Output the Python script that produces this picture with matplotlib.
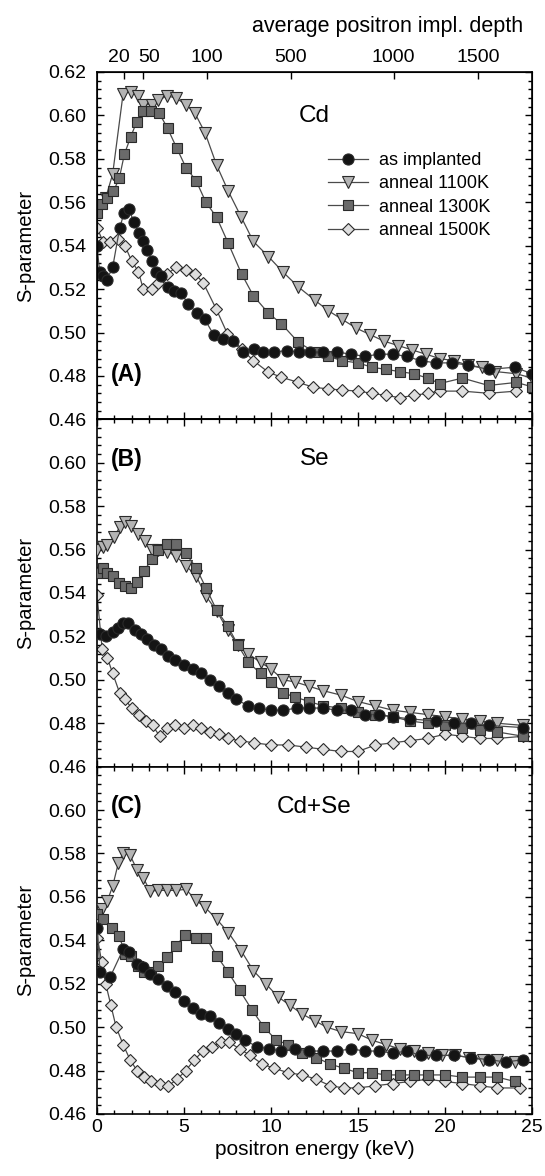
import numpy as np
import matplotlib
matplotlib.use("Agg")
import matplotlib.pyplot as plt
import matplotlib.transforms as mtransforms
from matplotlib.ticker import MultipleLocator

plt.rcParams['font.family'] = ['Liberation Sans', 'DejaVu Sans']

# ---- data (energy in keV, S-parameter) ----
# panel A: Cd
a_imp_E = [0.0, 0.15, 0.35, 0.55, 0.9, 1.3, 1.55, 1.85, 2.1, 2.4, 2.65, 2.9, 3.15, 3.4, 3.65, 4.1, 4.4, 4.85, 5.25, 5.75, 6.2, 6.7, 7.25, 7.8, 8.4, 9.0, 9.55, 10.2, 10.9, 11.6, 12.25, 13.0, 13.8, 14.6, 15.4, 16.2, 17.0, 17.8, 18.6, 19.5, 20.4, 21.3, 22.5, 24.0, 25.0]
a_imp_S = [0.540, 0.528, 0.526, 0.524, 0.530, 0.548, 0.555, 0.557, 0.551, 0.546, 0.542, 0.538, 0.533, 0.528, 0.526, 0.521, 0.519, 0.518, 0.513, 0.509, 0.506, 0.499, 0.497, 0.496, 0.491, 0.4925, 0.491, 0.491, 0.4917, 0.491, 0.491, 0.491, 0.491, 0.490, 0.489, 0.490, 0.490, 0.489, 0.487, 0.486, 0.486, 0.485, 0.483, 0.484, 0.481]
a_1100_E = [0.05, 0.5, 0.9, 1.5, 1.93, 2.34, 2.66, 3.14, 3.52, 4.04, 4.54, 5.11, 5.63, 6.21, 6.88, 7.55, 8.3, 8.98, 9.85, 10.67, 11.57, 12.5, 13.3, 14.1, 14.9, 15.7, 16.5, 17.3, 18.1, 18.9, 19.7, 20.5, 21.3, 22.1, 22.9, 24.1, 25.0]
a_1100_S = [0.556, 0.562, 0.573, 0.610, 0.611, 0.609, 0.605, 0.605, 0.607, 0.609, 0.608, 0.605, 0.601, 0.592, 0.577, 0.565, 0.553, 0.542, 0.535, 0.528, 0.521, 0.515, 0.510, 0.506, 0.502, 0.499, 0.496, 0.494, 0.492, 0.490, 0.488, 0.487, 0.485, 0.484, 0.482, 0.481, 0.479]
a_1300_E = [0.02, 0.27, 0.56, 0.94, 1.28, 1.57, 1.93, 2.28, 2.62, 3.1, 3.58, 4.06, 4.58, 5.11, 5.69, 6.26, 6.88, 7.55, 8.31, 8.98, 9.84, 10.6, 11.57, 12.5, 13.3, 14.1, 15.0, 15.8, 16.6, 17.4, 18.2, 19.0, 19.7, 21.0, 22.5, 24.1, 25.0]
a_1300_S = [0.555, 0.559, 0.562, 0.565, 0.571, 0.582, 0.590, 0.597, 0.602, 0.602, 0.601, 0.594, 0.585, 0.576, 0.570, 0.560, 0.553, 0.541, 0.527, 0.517, 0.509, 0.504, 0.4955, 0.491, 0.489, 0.487, 0.486, 0.484, 0.483, 0.482, 0.481, 0.479, 0.4765, 0.479, 0.4756, 0.477, 0.475]
a_1500_E = [0.02, 0.36, 0.75, 1.23, 1.6, 1.99, 2.38, 2.66, 3.14, 3.52, 4.04, 4.54, 5.11, 5.63, 6.1, 6.84, 7.49, 8.31, 8.99, 9.85, 10.6, 11.57, 12.43, 13.3, 14.1, 15.0, 15.8, 16.6, 17.4, 18.2, 19.0, 19.7, 21.0, 22.5, 24.1]
a_1500_S = [0.548, 0.5415, 0.5415, 0.543, 0.540, 0.533, 0.528, 0.520, 0.520, 0.523, 0.527, 0.530, 0.529, 0.527, 0.523, 0.511, 0.4995, 0.4925, 0.487, 0.4817, 0.4794, 0.477, 0.4748, 0.474, 0.4735, 0.473, 0.472, 0.471, 0.470, 0.471, 0.472, 0.473, 0.473, 0.472, 0.473]

# panel B: Se
b_imp_E = [0.2, 0.5, 0.9, 1.2, 1.5, 1.8, 2.2, 2.5, 2.9, 3.3, 3.7, 4.1, 4.5, 5.0, 5.5, 6.0, 6.5, 7.0, 7.5, 8.0, 8.7, 9.3, 10.0, 10.7, 11.5, 12.2, 13.0, 13.8, 14.6, 15.4, 16.2, 17.0, 18.0, 19.5, 20.5, 21.5, 22.5, 24.5]
b_imp_S = [0.521, 0.520, 0.522, 0.524, 0.526, 0.526, 0.523, 0.521, 0.519, 0.516, 0.514, 0.511, 0.509, 0.507, 0.505, 0.503, 0.500, 0.497, 0.494, 0.491, 0.488, 0.487, 0.486, 0.486, 0.487, 0.487, 0.487, 0.486, 0.486, 0.484, 0.484, 0.483, 0.482, 0.481, 0.480, 0.480, 0.479, 0.478]
b_1100_E = [0.02, 0.33, 0.59, 0.98, 1.32, 1.61, 1.94, 2.38, 2.76, 3.14, 3.52, 4.04, 4.54, 5.11, 5.69, 6.26, 6.88, 7.5, 8.1, 8.7, 9.4, 10.0, 10.7, 11.4, 12.2, 13.0, 14.0, 15.0, 16.0, 17.0, 18.0, 19.0, 20.0, 21.0, 22.0, 23.0, 24.5]
b_1100_S = [0.560, 0.561, 0.562, 0.566, 0.5705, 0.5725, 0.571, 0.567, 0.564, 0.560, 0.560, 0.559, 0.557, 0.5525, 0.548, 0.5386, 0.5317, 0.523, 0.516, 0.512, 0.508, 0.505, 0.500, 0.499, 0.497, 0.495, 0.493, 0.490, 0.488, 0.486, 0.485, 0.484, 0.483, 0.482, 0.481, 0.480, 0.479]
b_1300_E = [0.02, 0.33, 0.59, 0.94, 1.28, 1.61, 1.94, 2.32, 2.7, 3.14, 3.52, 4.04, 4.54, 5.11, 5.69, 6.26, 6.88, 7.5, 8.1, 8.7, 9.4, 10.0, 10.7, 11.4, 12.2, 13.0, 14.0, 15.0, 16.0, 17.0, 18.0, 19.0, 20.0, 21.0, 22.0, 23.0, 24.5]
b_1300_S = [0.5494, 0.5517, 0.549, 0.5478, 0.5447, 0.5432, 0.5424, 0.545, 0.550, 0.5556, 0.560, 0.5628, 0.5628, 0.5582, 0.5517, 0.5424, 0.532, 0.525, 0.516, 0.508, 0.503, 0.499, 0.494, 0.492, 0.490, 0.488, 0.487, 0.485, 0.484, 0.483, 0.481, 0.480, 0.479, 0.478, 0.477, 0.476, 0.474]
b_1500_E = [0.0, 0.3, 0.6, 0.9, 1.3, 1.6, 2.0, 2.4, 2.8, 3.2, 3.6, 4.0, 4.5, 5.0, 5.5, 6.0, 6.5, 7.0, 7.5, 8.2, 9.0, 10.0, 11.0, 12.0, 13.0, 14.0, 15.0, 16.0, 17.0, 18.0, 19.0, 20.0, 21.0, 22.0, 23.0, 24.5]
b_1500_S = [0.539, 0.514, 0.510, 0.503, 0.494, 0.491, 0.487, 0.484, 0.481, 0.479, 0.474, 0.478, 0.479, 0.478, 0.479, 0.478, 0.476, 0.475, 0.473, 0.472, 0.471, 0.470, 0.470, 0.469, 0.468, 0.467, 0.467, 0.470, 0.471, 0.472, 0.473, 0.475, 0.474, 0.473, 0.473, 0.474]

# panel C: Cd+Se
c_imp_E = [0.02, 0.17, 0.75, 1.51, 1.86, 2.28, 2.66, 3.05, 3.52, 4.0, 4.5, 5.0, 5.5, 6.0, 6.5, 7.0, 7.5, 8.0, 8.5, 9.2, 9.9, 10.6, 11.4, 12.2, 13.0, 13.8, 14.6, 15.4, 16.2, 17.0, 17.8, 18.6, 19.5, 20.5, 21.5, 22.5, 23.5, 24.5]
c_imp_S = [0.5459, 0.5252, 0.523, 0.536, 0.5344, 0.529, 0.5275, 0.5245, 0.5222, 0.519, 0.516, 0.512, 0.509, 0.506, 0.505, 0.502, 0.499, 0.497, 0.494, 0.491, 0.490, 0.489, 0.490, 0.489, 0.489, 0.489, 0.490, 0.489, 0.489, 0.488, 0.489, 0.487, 0.487, 0.487, 0.486, 0.485, 0.484, 0.485]
c_1100_E = [0.02, 0.27, 0.59, 0.9, 1.23, 1.51, 1.9, 2.32, 2.66, 3.05, 3.52, 4.04, 4.54, 5.11, 5.69, 6.2, 6.88, 7.55, 8.3, 8.99, 9.7, 10.4, 11.1, 11.8, 12.5, 13.2, 14.0, 15.0, 15.8, 16.6, 17.4, 18.2, 19.0, 19.8, 20.6, 21.4, 22.2, 23.0, 24.0]
c_1100_S = [0.5505, 0.5543, 0.558, 0.565, 0.5757, 0.5803, 0.5792, 0.5722, 0.5688, 0.5627, 0.563, 0.563, 0.563, 0.5635, 0.5584, 0.5553, 0.5497, 0.5436, 0.535, 0.526, 0.520, 0.514, 0.510, 0.506, 0.503, 0.500, 0.498, 0.497, 0.494, 0.492, 0.490, 0.489, 0.488, 0.487, 0.487, 0.486, 0.485, 0.485, 0.484]
c_1300_E = [0.02, 0.33, 0.84, 1.28, 1.61, 1.94, 2.38, 2.7, 3.08, 3.52, 4.04, 4.54, 5.06, 5.69, 6.26, 6.88, 7.55, 8.2, 8.9, 9.6, 10.3, 11.0, 11.8, 12.6, 13.4, 14.2, 15.0, 15.8, 16.6, 17.4, 18.2, 19.0, 20.0, 21.0, 22.0, 23.0, 24.0]
c_1300_S = [0.552, 0.5497, 0.5459, 0.542, 0.5337, 0.5329, 0.5283, 0.5252, 0.5252, 0.5283, 0.5321, 0.5375, 0.5425, 0.5413, 0.5413, 0.5329, 0.5252, 0.517, 0.508, 0.500, 0.494, 0.492, 0.488, 0.486, 0.483, 0.481, 0.479, 0.479, 0.478, 0.478, 0.478, 0.478, 0.478, 0.477, 0.477, 0.477, 0.475]
c_1500_E = [0.02, 0.27, 0.5, 0.8, 1.1, 1.5, 1.9, 2.3, 2.7, 3.1, 3.6, 4.1, 4.6, 5.1, 5.6, 6.1, 6.6, 7.1, 7.6, 8.2, 8.8, 9.5, 10.2, 11.0, 11.8, 12.6, 13.4, 14.2, 15.0, 16.0, 17.0, 18.0, 19.0, 20.0, 21.0, 22.0, 23.0, 24.3]
c_1500_S = [0.5413, 0.530, 0.520, 0.510, 0.500, 0.492, 0.485, 0.480, 0.477, 0.475, 0.474, 0.473, 0.476, 0.480, 0.485, 0.489, 0.491, 0.493, 0.493, 0.490, 0.487, 0.483, 0.481, 0.479, 0.478, 0.476, 0.473, 0.472, 0.472, 0.473, 0.474, 0.475, 0.476, 0.475, 0.474, 0.473, 0.472, 0.472]

series_labels = ["as implanted", "anneal 1100K", "anneal 1300K", "anneal 1500K"]
panel_names = ["Cd", "Se", "Cd+Se"]
panel_letters = ["(A)", "(B)", "(C)"]

# top axis: average positron implantation depth
depth_labels = ["20", "50", "100", "500", "1000", "1500"]
depth_pos_keV = [1.57, 2.66, 6.3, 11.15, 17.05, 21.9]

panels = [
    [(a_imp_E, a_imp_S), (a_1100_E, a_1100_S), (a_1300_E, a_1300_S), (a_1500_E, a_1500_S)],
    [(b_imp_E, b_imp_S), (b_1100_E, b_1100_S), (b_1300_E, b_1300_S), (b_1500_E, b_1500_S)],
    [(c_imp_E, c_imp_S), (c_1100_E, c_1100_S), (c_1300_E, c_1300_S), (c_1500_E, c_1500_S)],
]

styles = [
    dict(marker='o', ms=8, mfc='#141414', zorder=5),
    dict(marker='v', ms=8.3, mfc='#b4b4b4', zorder=3),
    dict(marker='s', ms=6.7, mfc='#6a6a6a', zorder=4),
    dict(marker='D', ms=6.3, mfc='#dedede', zorder=2),
]

fig = plt.figure(figsize=(5.45, 11.76), dpi=100)
left, right = 97 / 545, 532 / 545
top, bottom = 1 - 72 / 1176, 1 - 1114 / 1176
h = (top - bottom) / 3

axes = []
for i in range(3):
    ax = fig.add_axes([left, top - (i + 1) * h, right - left, h])
    axes.append(ax)

for i, ax in enumerate(axes):
    for (E, S), st, lab in zip(panels[i], styles, series_labels):
        ax.plot(E, S, color='#4a4a4a', lw=0.9, mec='#2a2a2a', mew=0.8, label=lab, **st)
    ax.set_xlim(0, 25)
    ax.set_ylim(0.46, 0.62)
    ax.xaxis.set_major_locator(MultipleLocator(5))
    ax.xaxis.set_minor_locator(MultipleLocator(1))
    ax.yaxis.set_major_locator(MultipleLocator(0.02))
    ax.yaxis.set_minor_locator(MultipleLocator(0.004))
    ax.tick_params(which='both', direction='in', left=True, right=True,
                   bottom=True, top=(i > 0), labelsize=14, width=1.0)
    ax.tick_params(which='major', length=5)
    ax.tick_params(which='minor', length=3)
    ax.tick_params(axis='y', pad=8)
    ax.yaxis.set_major_formatter(plt.FormatStrFormatter('%.2f'))
    if i > 0:
        ax.set_yticks(np.arange(0.46, 0.605, 0.02))
        ax.yaxis.set_minor_locator(MultipleLocator(0.004))
    if i < 2:
        ax.tick_params(labelbottom=False)
    for sp in ax.spines.values():
        sp.set_linewidth(1.2)
    ax.set_ylabel("S-parameter", fontsize=14.5, labelpad=9)
    ax.text(0.5, 0.872 if i == 0 else 0.885, panel_names[i], transform=ax.transAxes,
            ha='center', va='center', fontsize=17.5)
    ax.text(0.032, 0.128 if i == 0 else 0.885, panel_letters[i], transform=ax.transAxes,
            ha='left', va='center', fontsize=16.5, fontweight='bold')

axes[2].set_xlabel("positron energy (keV)", fontsize=15, labelpad=3)

# depth axis on top of panel A
axt = axes[0].twiny()
axt.set_xlim(0, 25)
axt.set_xticks(depth_pos_keV)
axt.set_xticklabels(depth_labels)
axt.tick_params(direction='in', length=5, width=1.0, labelsize=14, pad=4)
# the first two labels sit close together; nudge them apart a little
for lbl, dx in zip(axt.get_xticklabels()[:2], (-4, 4)):
    lbl.set_transform(lbl.get_transform() +
                      mtransforms.ScaledTranslation(dx / 72, 0, fig.dpi_scale_trans))
axes[0].text(0.979, 1.116, "average positron impl. depth", transform=axes[0].transAxes,
             ha='right', va='baseline', fontsize=15.5)

axes[0].legend(loc='upper left', bbox_to_anchor=(0.515, 0.79), frameon=False,
               fontsize=13, handlelength=2.2, handletextpad=0.6, labelspacing=0.35,
               borderaxespad=0)

fig.savefig("out.png", dpi=100)
